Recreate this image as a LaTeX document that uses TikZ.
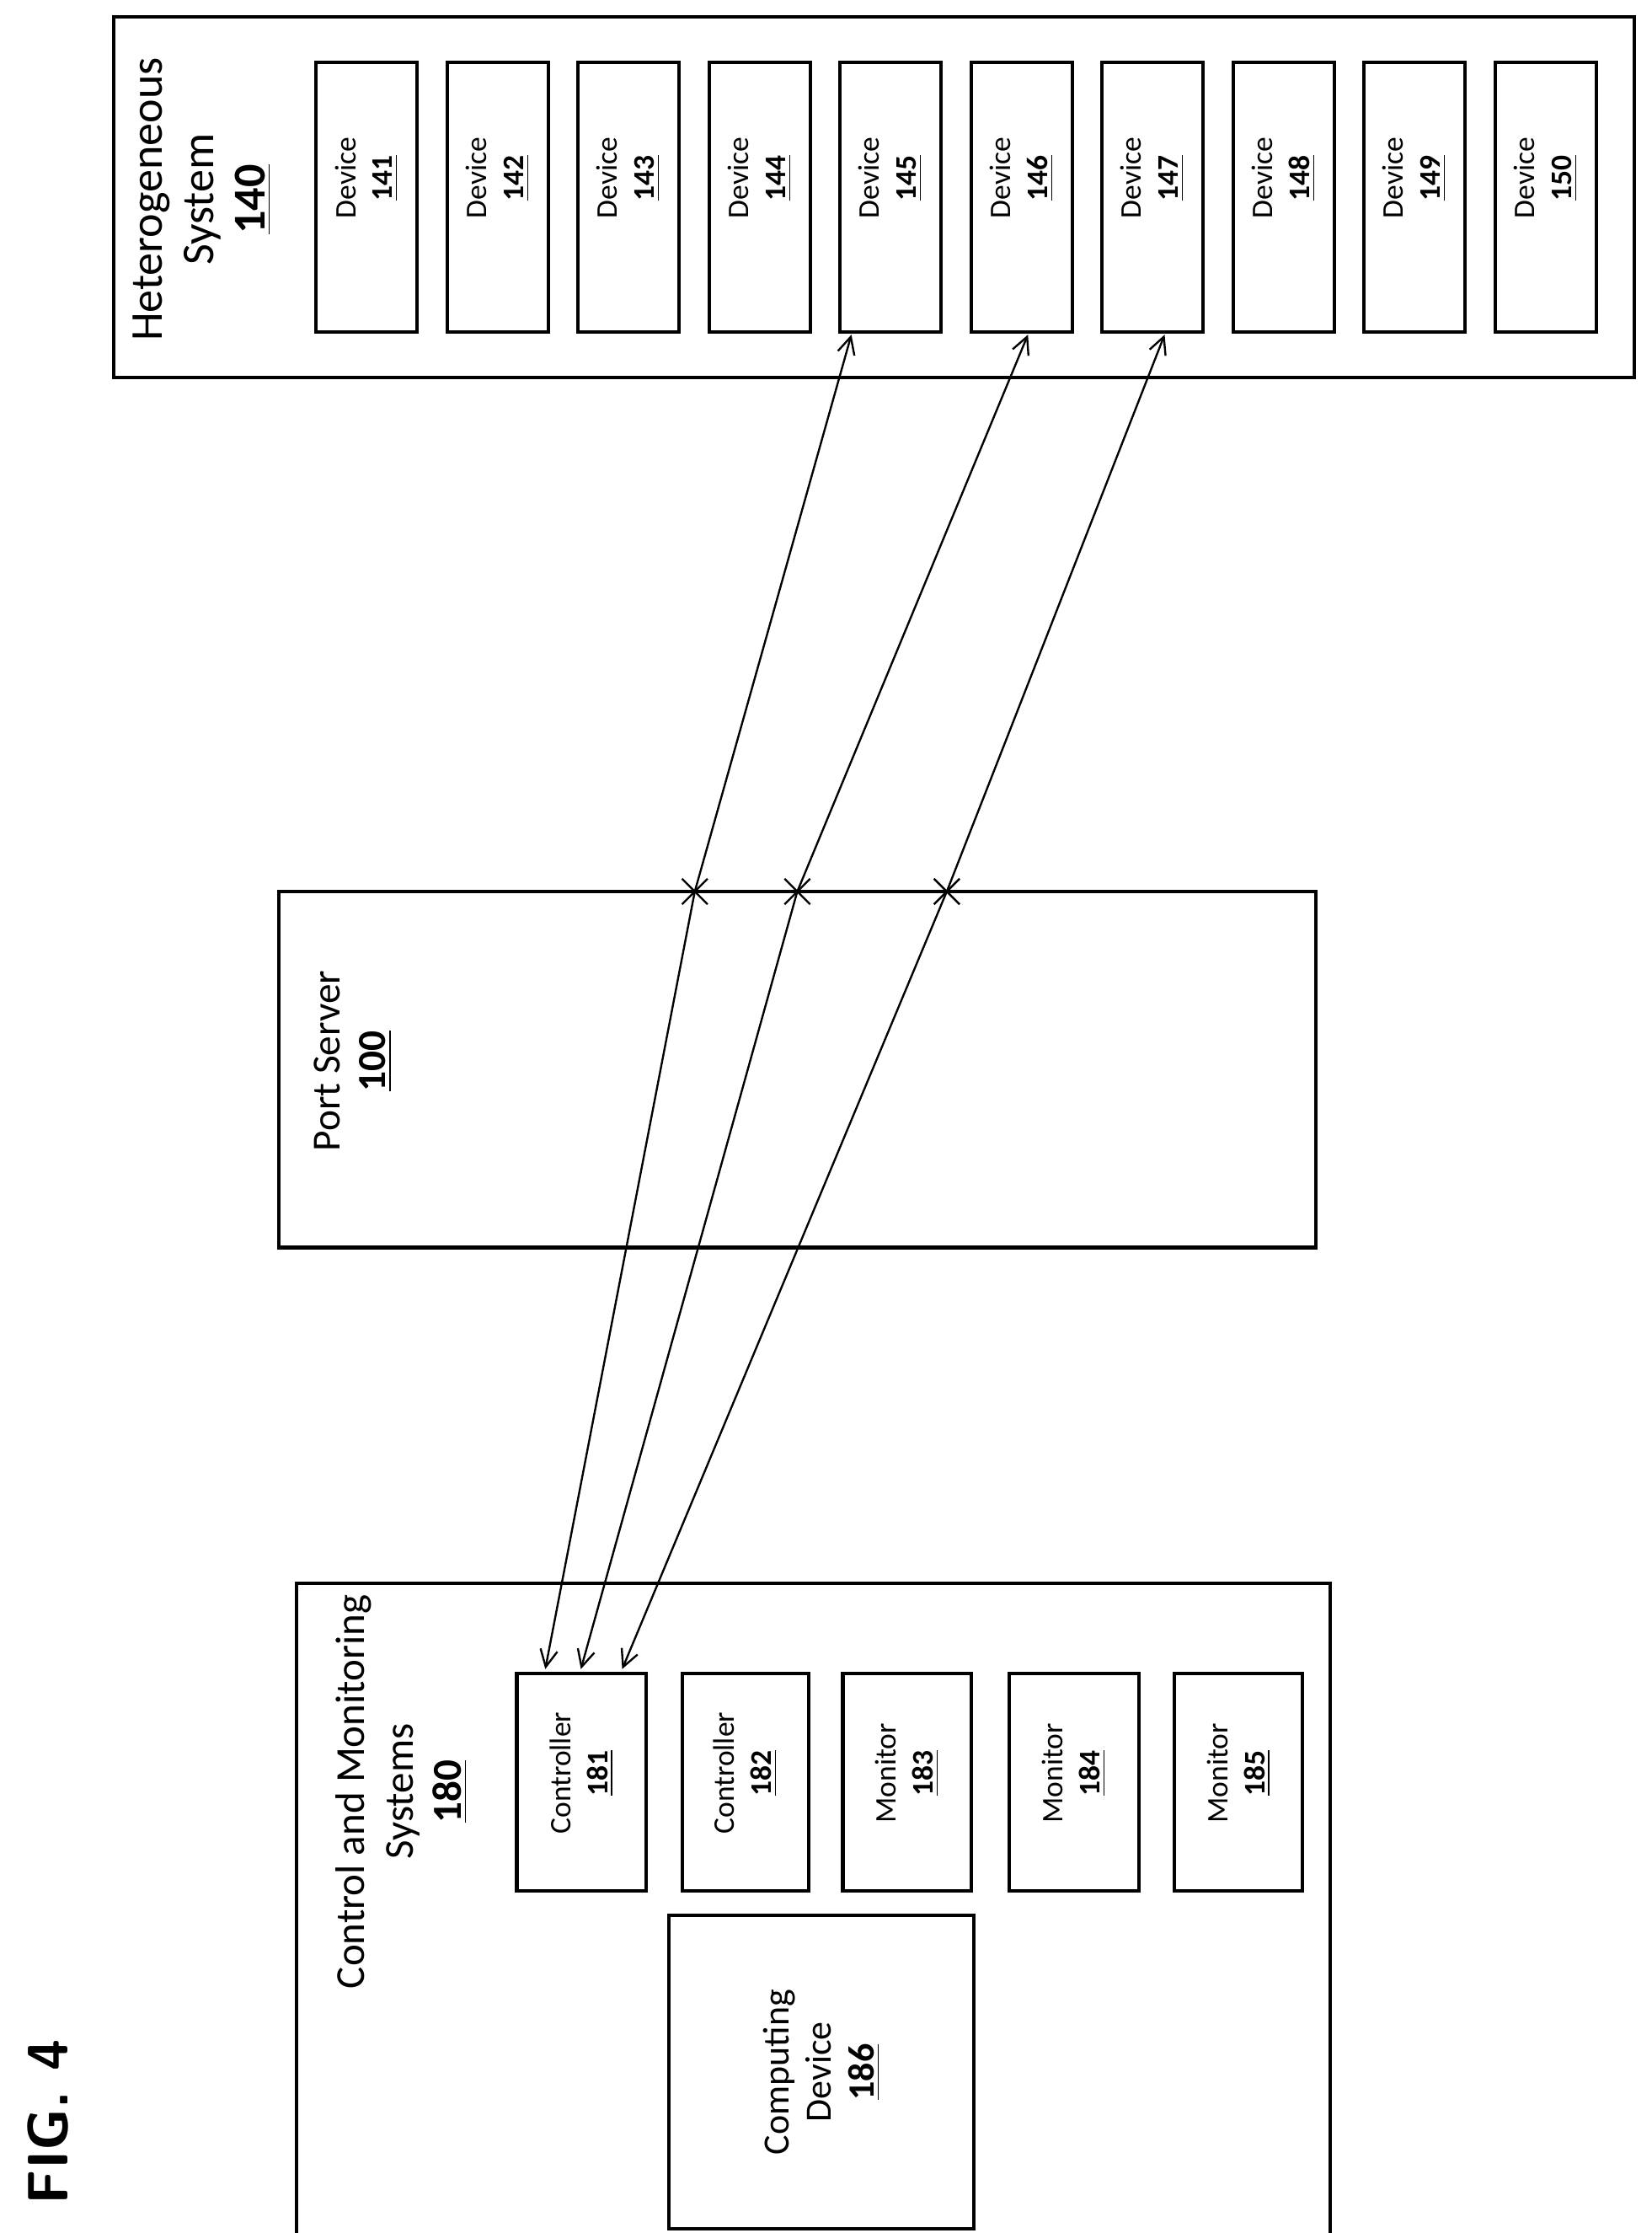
\documentclass[tikz,border=0pt]{standalone}
\usepackage{fontspec}
\setmainfont{Carlito}
\usetikzlibrary{arrows.meta}
\begin{document}
\begin{tikzpicture}[x=0.5pt,y=-0.5pt,
  box/.style={draw,line width=1.2pt},
  lbl/.style={rotate=90,align=center,font=\fontsize{10.5}{13}\selectfont},
  big/.style={rotate=90,align=center,font=\fontsize{16}{18}\selectfont},
  mid/.style={rotate=90,align=center,font=\fontsize{13}{15}\selectfont},
  link/.style={line width=0.7pt,{Straight Barb[length=6pt,width=6pt]}-{Straight Barb[length=6pt,width=6pt]}},
  xm/.style={line width=0.7pt}]
\useasboundingbox (0,0) rectangle (1160,1568);
\node[rotate=90,font=\sffamily\bfseries\fontsize{20}{22}\selectfont] (fig) at (34,1490) {FIG. 4};
% heterogeneous
\draw[box] (80,12) rectangle (1148,265);
\node[big] (hs) at (142,140) {Heterogeneous\\System\\\underline{\textbf{140}}};
\foreach \n [count=\i from 0] in {141,...,150}{
  \pgfmathsetmacro\xa{222+92*\i}
  \draw[box] (\xa,44) rectangle ({\xa+71},233);
  \node[lbl] (d\n) at ({\xa+35.5},125) {Device\\\underline{\textbf{\n}}};
}
% port server
\draw[box] (196,626) rectangle (924,876);
\node[mid,font=\fontsize{14}{16}\selectfont] (ps) at (248,745) {Port Server\\\underline{\textbf{100}}};
% control
\draw[box] (208,1112) rectangle (934,1578);
\node[big,font=\fontsize{14.5}{17}\selectfont] (cm) at (282,1258) {Control and Monitoring\\Systems\\\underline{\textbf{180}}};
\draw[box] (470,1345) rectangle (684,1565);
\node[mid] (cd) at (577,1455) {Computing\\Device\\\underline{\textbf{186}}};
\foreach \n/\t/\xa/\xb in {181/Controller/363/454,182/Controller/479/568,183/Monitor/592/682,184/Monitor/709/800,185/Monitor/825/915}{
  \draw[box] (\xa,1175) rectangle (\xb,1328);
  \node[lbl] (c\n) at ({(\xa+\xb)/2},1245) {\t\\\underline{\textbf{\n}}};
}
\coordinate (s1) at (383,1172); \coordinate (s2) at (408,1172); \coordinate (s3) at (437,1172);
\coordinate (e1) at (598,235); \coordinate (e2) at (722,235); \coordinate (e3) at (818,235);
\coordinate (x1) at (488,626); \coordinate (x2) at (560,626); \coordinate (x3) at (665,626);
\draw[link] (s1) -- (x1) -- (e1);
\draw[link] (s2) -- (x2) -- (e2);
\draw[link] (s3) -- (x3) -- (e3);
\foreach \k in {1,2,3}{
  \draw[xm] ([shift={(-9,-9)}]x\k) -- ([shift={(9,9)}]x\k);
  \draw[xm] ([shift={(-9,9)}]x\k) -- ([shift={(9,-9)}]x\k);
}
\end{tikzpicture}
\end{document}
